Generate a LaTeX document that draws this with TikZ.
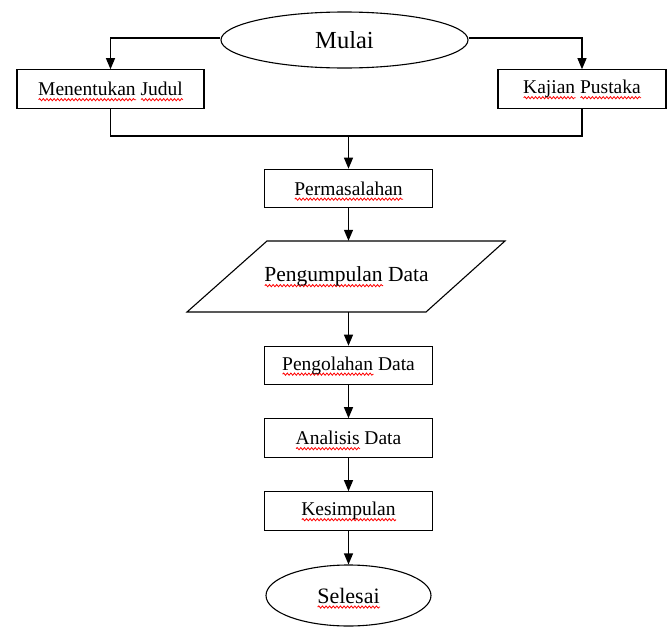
\documentclass[tikz,border=0pt]{standalone}
\usepackage{fontspec}
\setmainfont{Liberation Serif}
\usetikzlibrary{shapes.geometric,arrows.meta,calc,decorations.pathmorphing}
\newsavebox\sqbox
\newcommand\sq[1]{\sbox\sqbox{#1}\rlap{\smash{\tikz[baseline=0pt,x=1pt,y=1pt]\draw[red,line width=0.8pt,decorate,decoration={snake,amplitude=1.1pt,segment length=3.6pt}] (0,-4) -- (\the\wd\sqbox,-4);}}\usebox\sqbox}
\tikzset{
  ln/.style={line width=1.1pt, black},
  arr/.style={ln, -{Triangle[width=9pt,length=11pt]}},
  box/.style={draw, ln, rectangle, minimum width=168, minimum height=38.5, inner sep=0pt,
    font=\fontsize{19.5}{22}\selectfont},
  oval/.style={draw, ln, ellipse, inner sep=0pt},
}
\begin{document}
\begin{tikzpicture}[x=1pt,y=1pt]
\useasboundingbox (0,0) rectangle (670,-627);
\node[oval, minimum width=247, minimum height=56, font=\fontsize{24.5}{28}\selectfont] (mulai) at (344.5,-40) {Mulai};
\node[box, minimum width=187] (judul) at (110.5,-89) {\sq{Menentukan} \sq{Judul}};
\node[box] (kajian) at (582,-89) {\sq{Kajian} \sq{Pustaka}};
\node[box] (masalah) at (348.5,-188.5) {\sq{Permasalahan}};
\node[draw=none, minimum width=317, minimum height=71, inner sep=0pt, font=\fontsize{21.5}{24}\selectfont] (data) at (346.5,-276.5) {\sq{Pengumpulan} Data};
\draw[ln] ($(data.center)+(-79.5,35.5)$) -- ++(238,0) -- ++(-79,-71) -- ++(-239,0) -- cycle;
\node[box] (olah) at (348.5,-365.5) {\sq{Pengolahan} Data};
\node[box] (analisis) at (348.5,-438) {\sq{Analisis} Data};
\node[box] (simpul) at (348.5,-511) {\sq{Kesimpulan}};
\node[oval, minimum width=165, minimum height=61, font=\fontsize{22}{26}\selectfont] (selesai) at (348.5,-595.5) {\sq{Selesai}};
\coordinate (j) at (348.5,-136);
\draw[arr] ([yshift=2pt]mulai.west) -| (judul.north);
\draw[arr] ([yshift=2pt]mulai.east) -| (kajian.north);
\draw[ln] (judul.south) |- (j) -| (kajian.south);
\draw[arr] (j) -- (masalah.north);
\draw[arr] (masalah.south) -- (masalah.south |- data.north);
\draw[arr] (olah.north |- data.south) -- (olah.north);
\draw[arr] (olah.south) -- (analisis.north);
\draw[arr] (analisis.south) -- (simpul.north);
\draw[arr] (simpul.south) -- (selesai.north);
\end{tikzpicture}
\end{document}
